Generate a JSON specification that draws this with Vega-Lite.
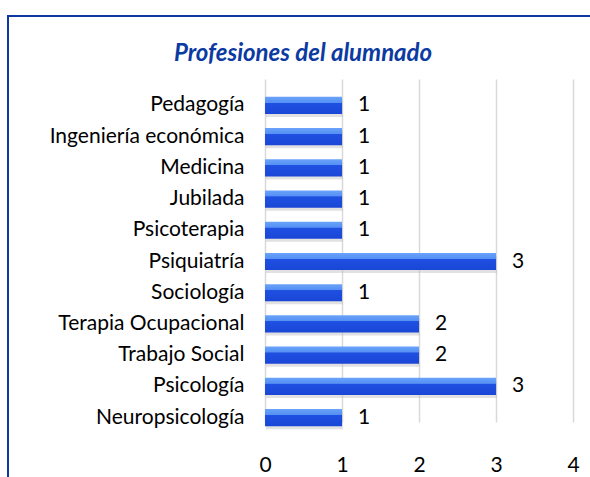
{
  "$schema": "https://vega.github.io/schema/vega-lite/v6.json",
  "usermeta": {"embedOptions": {"actions": false}},
  "autosize": "none",
  "width": 600,
  "height": 480,
  "padding": {"left": 8, "top": 16, "right": -18, "bottom": -19},
  "background": "white",
  "title": {"text": "Profesiones del alumnado", "font": "Lato", "fontSize": 24, "fontStyle": "italic", "fontWeight": "bold", "color": "#0b3aa2", "offset": -50, "anchor": "middle", "frame": "group", "dx": -5},
  "config": {"view": {"stroke": "#0b38a3", "strokeWidth": 2}, "font": "Lato"},
  "data": {"values": [
    {"profesion": "Pedagogía", "n": 1},
    {"profesion": "Ingeniería económica", "n": 1},
    {"profesion": "Medicina", "n": 1},
    {"profesion": "Jubilada", "n": 1},
    {"profesion": "Psicoterapia", "n": 1},
    {"profesion": "Psiquiatría", "n": 3},
    {"profesion": "Sociología", "n": 1},
    {"profesion": "Terapia Ocupacional", "n": 2},
    {"profesion": "Trabajo Social", "n": 2},
    {"profesion": "Psicología", "n": 3},
    {"profesion": "Neuropsicología", "n": 1}
  ]},
  "encoding": {
    "y": {"field": "profesion", "type": "nominal", "sort": null,
      "scale": {"range": [74, 417], "paddingInner": 0.45, "paddingOuter": 0.22},
      "axis": {"title": null, "offset": -257, "domain": false, "ticks": false, "labelPadding": 21, "labelFontSize": 21, "labelColor": "#000000", "labelFont": "Lato", "labelLimit": 400}},
    "x": {"field": "n", "type": "quantitative",
      "scale": {"domain": [0, 4], "range": [257, 565], "nice": false},
      "axis": {"title": null, "values": [0, 1, 2, 3, 4], "grid": true, "gridColor": "#d9d9d9", "gridWidth": 1.5, "domain": false, "ticks": false, "labelFontSize": 21, "labelColor": "#000000", "labelFont": "Lato", "offset": -42, "labelPadding": 0, "labelFlush": false}}
  },
  "layer": [
    {"mark": {"type": "bar", "yOffset": 3, "xOffset": 1, "color": "#bdbdbd", "opacity": 0.45}},
    {"mark": {"type": "bar", "color": {"gradient": "linear", "x1": 0, "y1": 0, "x2": 0, "y2": 1, "stops": [
      {"offset": 0, "color": "#6aa3fa"},
      {"offset": 0.33, "color": "#5590f4"},
      {"offset": 0.36, "color": "#1f50e2"},
      {"offset": 1, "color": "#1a46d6"}]}}},
    {"mark": {"type": "text", "align": "left", "baseline": "middle", "dx": 16, "fontSize": 21, "font": "Lato", "color": "#000000"},
     "encoding": {"text": {"field": "n", "type": "quantitative"}}}
  ]
}
